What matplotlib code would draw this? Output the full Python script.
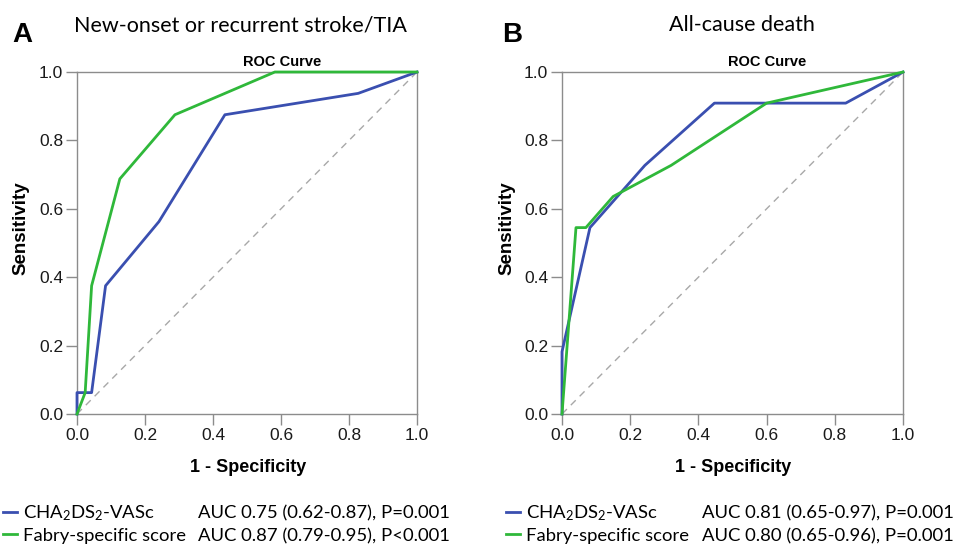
import matplotlib
matplotlib.use("Agg")
import matplotlib.pyplot as plt
from matplotlib.lines import Line2D

plt.rcParams['font.family'] = ['Liberation Sans', 'DejaVu Sans']
plt.rcParams['mathtext.fontset'] = 'custom'
plt.rcParams['mathtext.rm'] = 'Lato'
plt.rcParams['mathtext.it'] = 'Lato:italic'
plt.rcParams['mathtext.bf'] = 'Lato:bold'

# ---- data ----
panel_letters = ["A", "B"]
panel_titles = ["New-onset or recurrent stroke/TIA", "All-cause death"]
series_names = ["CHA$_2$DS$_2$-VASc", "Fabry-specific score"]

a_cha_fpr = [0, 0, 0.043, 0.084, 0.241, 0.435, 0.827, 1.0]
a_cha_tpr = [0, 0.0625, 0.0625, 0.375, 0.5625, 0.875, 0.9375, 1.0]
a_fab_fpr = [0, 0.024, 0.043, 0.126, 0.288, 0.582, 1.0]
a_fab_tpr = [0, 0.0625, 0.375, 0.6875, 0.875, 1.0, 1.0]

b_cha_fpr = [0, 0, 0.082, 0.243, 0.447, 0.832, 1.0]
b_cha_tpr = [0, 0.182, 0.545, 0.727, 0.909, 0.909, 1.0]
b_fab_fpr = [0, 0.041, 0.07, 0.15, 0.32, 0.60, 1.0]
b_fab_tpr = [0, 0.545, 0.545, 0.636, 0.727, 0.909, 1.0]

a_auc = ["AUC 0.75 (0.62-0.87), P=0.001", "AUC 0.87 (0.79-0.95), P<0.001"]
b_auc = ["AUC 0.81 (0.65-0.97), P=0.001", "AUC 0.80 (0.65-0.96), P=0.001"]

ticks = [0.0, 0.2, 0.4, 0.6, 0.8, 1.0]
tick_labels = ["0.0", "0.2", "0.4", "0.6", "0.8", "1.0"]

BLUE = "#3a4fb0"
GREEN = "#2fb83a"
W, H = 968, 546

fig = plt.figure(figsize=(W / 100, H / 100), dpi=100)
fig.patch.set_facecolor("white")


def fx(px):
    return px / W


def fy(py):
    return 1 - py / H


def make_panel(left, right, curves, letter, title, aucs, geo):
    ax = fig.add_axes([fx(left), fy(414), fx(right - left), (414 - 72) / H])
    ax.plot([0, 1], [0, 1], ls=(0, (5, 4)), color="#a8a8a8", lw=1.0, zorder=1)
    for (xs, ys), c in zip(curves, [BLUE, GREEN]):
        ax.plot(xs, ys, color=c, lw=2.0, clip_on=False, zorder=3,
                solid_joinstyle="round")
    ax.set_xlim(0, 1)
    ax.set_ylim(0, 1)
    ax.set_xticks(ticks)
    ax.set_xticklabels(tick_labels)
    ax.set_yticks(ticks)
    ax.set_yticklabels(tick_labels)
    for s in ax.spines.values():
        s.set_color("#8c8c8c")
        s.set_linewidth(1.0)
    ax.tick_params(direction="out", length=8, width=1.0, color="#8c8c8c",
                   labelsize=12.5, labelcolor="#1a1a1a", pad=2)
    # labels
    fig.text(fx(geo["ylab_x"]), fy(228), "Sensitivity", rotation=90,
             ha="center", va="center", fontsize=13.5, fontweight="bold")
    fig.text(fx(geo["xlab_x"]), fy(467), "1 - Specificity",
             ha="center", va="center", fontsize=13, fontweight="bold")
    fig.text(fx(geo["roc_x"]), fy(62), "ROC Curve", ha="center", va="center",
             fontsize=10.5, fontweight="bold")
    fig.text(fx(geo["title_x"]), fy(25), title, ha="center", va="center",
             fontsize=15.5, family="Lato")
    fig.text(fx(geo["letter_x"]), fy(35), letter, ha="left", va="center",
             fontsize=20, fontweight="bold")
    # legend
    for i, (name, auc, c) in enumerate(zip(series_names, aucs, [BLUE, GREEN])):
        yb = [518, 541][i]
        ym = [512, 534][i]
        fig.add_artist(Line2D([fx(geo["leg_x0"]), fx(geo["leg_x0"] + 14)],
                              [fy(ym), fy(ym)], color=c, lw=2.0))
        fig.text(fx(geo["leg_x0"] + 20), fy(yb), name, ha="left",
                 va="baseline", fontsize=13.3, family="Lato")
        fig.text(fx(geo["auc_x"]), fy(yb), auc, ha="left", va="baseline",
                 fontsize=13.3, family="Lato")
    return ax


make_panel(77, 417, [(a_cha_fpr, a_cha_tpr), (a_fab_fpr, a_fab_tpr)],
           panel_letters[0], panel_titles[0], a_auc,
           dict(ylab_x=21, xlab_x=248, roc_x=282, title_x=240, letter_x=12,
                leg_x0=3, auc_x=198))
make_panel(562, 903, [(b_cha_fpr, b_cha_tpr), (b_fab_fpr, b_fab_tpr)],
           panel_letters[1], panel_titles[1], b_auc,
           dict(ylab_x=507, xlab_x=733, roc_x=767, title_x=742, letter_x=502,
                leg_x0=506, auc_x=702))

fig.savefig("out.png", dpi=100, facecolor="white")
